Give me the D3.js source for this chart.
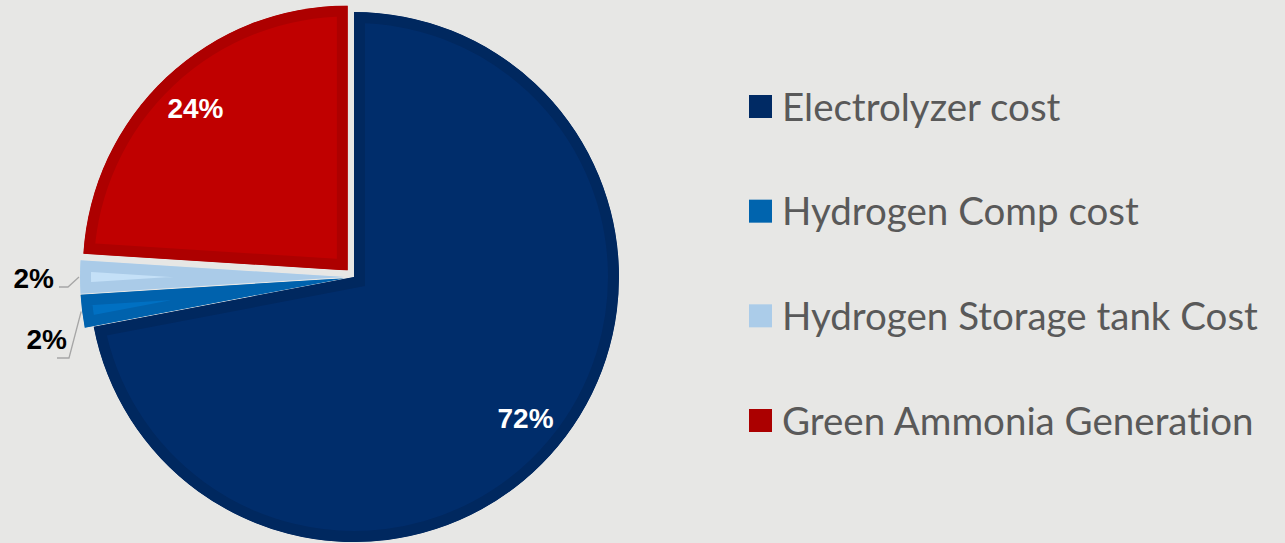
<!DOCTYPE html>
<html>
<head>
<meta charset="utf-8">
<script src="https://cdn.jsdelivr.net/npm/d3@7"></script>
<style>
  html, body { margin: 0; padding: 0; background: #e7e7e5; }
  svg { display: block; }
</style>
</head>
<body>
<svg id="chart" width="1285" height="543"></svg>
<script>
// Cost breakdown shares (percent)
const categories = ["Electrolyzer cost", "Hydrogen Comp cost", "Hydrogen Storage tank Cost", "Green Ammonia Generation"];
const shares = [72, 2, 2, 24];
const shareLabels = ["72%", "2%", "2%", "24%"];

// Slice styling
const faceColors = ["#002d6b", "#0070c2", "#c4e0f7", "#c00000"];
const edgeColors = ["#00285f", "#0062ad", "#aacbe8", "#ad0000"];
const legendColors = ["#002a64", "#0064ae", "#abcce9", "#ab0000"];
const explode = [0, 9, 9, 9];

const svg = d3.select("#chart");
const W = 1285, H = 543;
svg.append("rect").attr("width", W).attr("height", H).attr("fill", "#e7e7e5");

const cx = 354, cy = 277, R = 265;
const bevel = 11;

const pie = d3.pie().sort(null).value(d => d)(shares);
const arc = d3.arc().innerRadius(0).outerRadius(R);
const labelArc = d3.arc().innerRadius(R * 0.84).outerRadius(R * 0.84);

const g = svg.append("g").attr("transform", `translate(${cx},${cy})`);
const defs = svg.append("defs");

function offset(d, i) {
  const a = (d.startAngle + d.endAngle) / 2;
  return [Math.sin(a) * explode[i], -Math.cos(a) * explode[i]];
}

// Each slice: face colour with a darker inset rim (double-width stroke clipped to the slice)
pie.forEach((d, i) => {
  const [ox, oy] = offset(d, i);
  const sg = g.append("g").attr("transform", `translate(${ox},${oy})`);
  defs.append("clipPath").attr("id", "slice-clip-" + i)
    .append("path").attr("d", arc(d));
  sg.append("path")
    .attr("d", arc(d))
    .attr("fill", faceColors[i])
    .attr("stroke", edgeColors[i])
    .attr("stroke-width", bevel * 2)
    .attr("stroke-linejoin", "miter")
    .attr("clip-path", `url(#slice-clip-${i})`);
});

// Inside labels for the large slices
pie.forEach((d, i) => {
  if (shares[i] < 5) return;
  const [ox, oy] = offset(d, i);
  const [lx, ly] = labelArc.centroid(d);
  g.append("text")
    .attr("x", lx + ox).attr("y", ly + oy)
    .attr("text-anchor", "middle")
    .attr("dominant-baseline", "central")
    .attr("font-family", "Liberation Sans, Arial, sans-serif")
    .attr("font-weight", "bold")
    .attr("font-size", 28)
    .attr("fill", "#ffffff")
    .text(shareLabels[i]);
});

// Outside labels with leader lines for the thin slices
const outside = {
  1: { elbow: [-285, 81], tail: [-297, 81], text: [-287, 72] },
  2: { elbow: [-286, 10], tail: [-295, 10], text: [-300, 11] }
};
pie.forEach((d, i) => {
  if (!outside[i]) return;
  const [ox, oy] = offset(d, i);
  const a = (d.startAngle + d.endAngle) / 2;
  const ax = Math.sin(a) * (R + 1) + ox, ay = -Math.cos(a) * (R + 1) + oy;
  const o = outside[i];
  g.append("path")
    .attr("d", d3.line()([[ax, ay], o.elbow, o.tail]))
    .attr("fill", "none")
    .attr("stroke", "#a6a6a6")
    .attr("stroke-width", 1.3);
  g.append("text")
    .attr("x", o.text[0]).attr("y", o.text[1])
    .attr("text-anchor", "end")
    .attr("font-family", "Liberation Sans, Arial, sans-serif")
    .attr("font-weight", "bold")
    .attr("font-size", 28)
    .attr("fill", "#000000")
    .text(shareLabels[i]);
});

// Legend
const legendY = d3.scalePoint().domain(categories).range([106.5, 420.5]);
const legend = svg.append("g");
categories.forEach((c, i) => {
  const y = legendY(c);
  legend.append("rect")
    .attr("x", 749).attr("y", y - 11.5)
    .attr("width", 23).attr("height", 23)
    .attr("fill", legendColors[i]);
  legend.append("text")
    .attr("x", 782).attr("y", y + 14)
    .attr("font-family", "Lato, 'Open Sans', sans-serif")
    .attr("font-size", 38.5)
    .style("font-variant-ligatures", "none")
    .attr("fill", "#595959")
    .text(c);
});
</script>
</body>
</html>
